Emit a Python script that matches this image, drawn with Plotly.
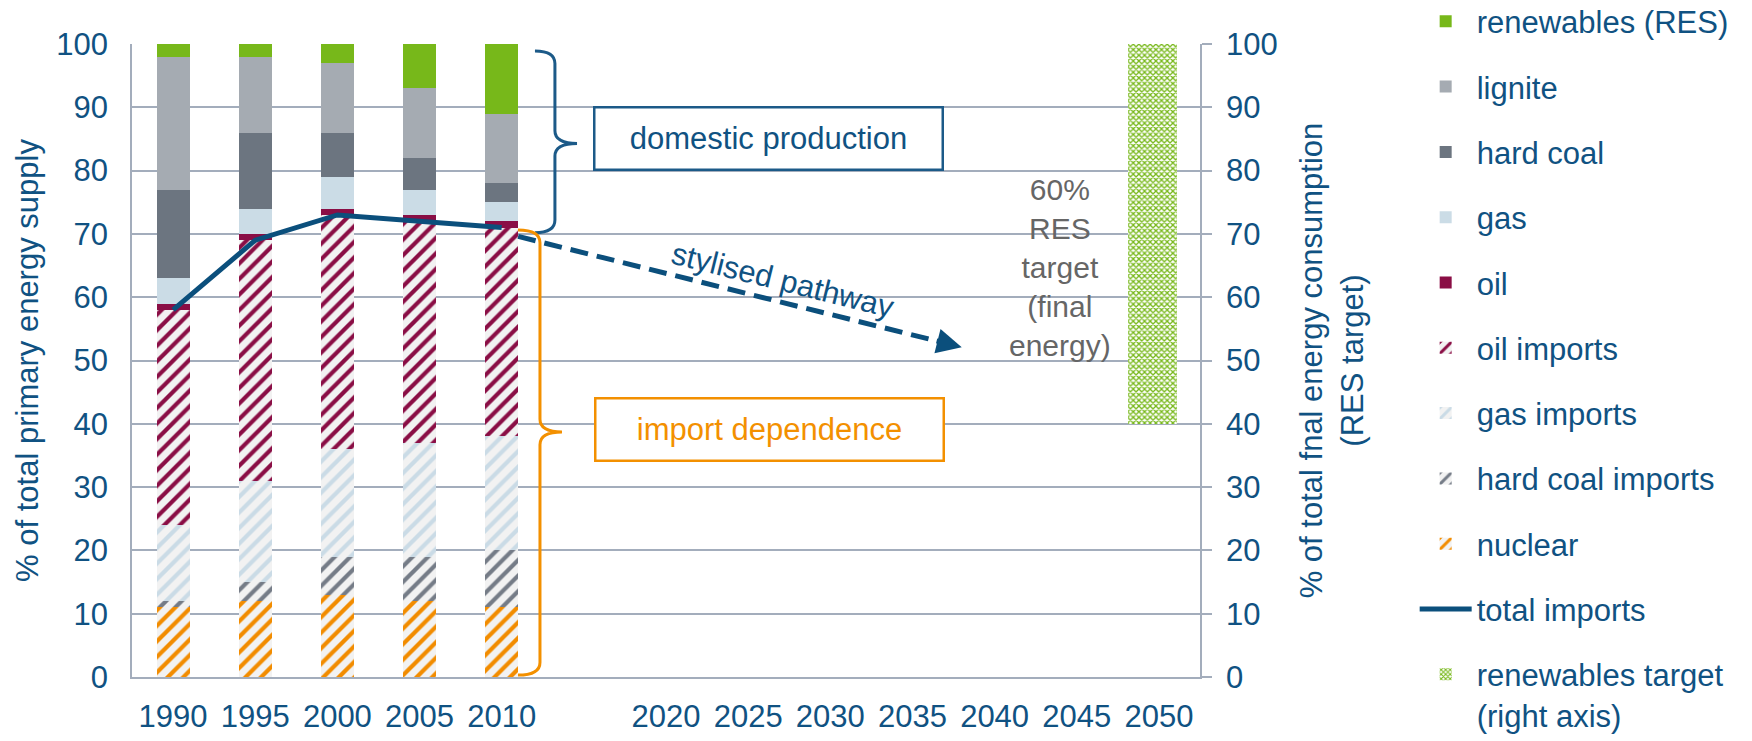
import plotly.graph_objects as go

# Primary energy supply shares (%), historical years
HIST_YEARS = ["1990", "1995", "2000", "2005", "2010"]
AXIS_CATEGORIES = ["1990", "1995", "2000", "2005", "2010", " ",
                   "2020", "2025", "2030", "2035", "2040", "2045", "2050"]

NUCLEAR = [11, 12, 13, 12, 11]
HARD_COAL_IMPORTS = [1, 3, 6, 7, 9]
GAS_IMPORTS = [12, 16, 17, 18, 18]
OIL_IMPORTS = [34, 38, 37, 35, 33]
OIL = [1, 1, 1, 1, 1]
GAS = [4, 4, 5, 4, 3]
HARD_COAL = [14, 12, 7, 5, 3]
LIGNITE = [21, 12, 11, 11, 11]
RENEWABLES = [2, 2, 3, 7, 11]
TOTAL_IMPORTS = [58, 69, 73, 72, 71]

# Renewables target on the right axis (% of final energy)
TARGET_YEAR = ["2050"]
RES_TARGET = [60]

# Stylised pathway endpoints (category index, %)
PATHWAY_START = (4.2, 69.6)
PATHWAY_END = (9.6, 52.1)

FONT = "Arial, Liberation Sans, sans-serif"
BLUE = "#105282"
LINE_BLUE = "#0B4F7C"
ORANGE = "#F39000"
GRID = "#A3ADBC"
HATCH_BG = "#F2F2F2"

fig = go.Figure()


def solid_bar(name, values, color, rank):
    fig.add_trace(go.Bar(
        x=HIST_YEARS, y=values, name=name, width=0.4,
        marker=dict(color=color, line=dict(width=0)),
        legendrank=rank, legendgroup=name,
    ))


def hatched_bar(name, values, color, rank):
    fig.add_trace(go.Bar(
        x=HIST_YEARS, y=values, name=name, width=0.4,
        marker=dict(color=HATCH_BG, line=dict(width=0),
                    pattern=dict(shape="/", fgcolor=color, bgcolor=HATCH_BG,
                                 size=11, solidity=0.38, fillmode="replace")),
        legendrank=rank, legendgroup=name,
    ))


# stacked from bottom to top
hatched_bar("nuclear", NUCLEAR, "#F28C00", 9)
hatched_bar("hard coal imports", HARD_COAL_IMPORTS, "#757C87", 8)
hatched_bar("gas imports", GAS_IMPORTS, "#CADBE6", 7)
hatched_bar("oil imports", OIL_IMPORTS, "#8A0E45", 6)
solid_bar("oil", OIL, "#8A0E45", 5)
solid_bar("gas", GAS, "#CBDCE6", 4)
solid_bar("hard coal", HARD_COAL, "#6C7580", 3)
solid_bar("lignite", LIGNITE, "#A5ABB2", 2)
solid_bar("renewables (RES)", RENEWABLES, "#77B81A", 1)

fig.add_trace(go.Scatter(
    x=HIST_YEARS, y=TOTAL_IMPORTS, name="total imports", mode="lines",
    line=dict(color=LINE_BLUE, width=5), legendrank=10,
    legendgroup="total imports",
))

fig.add_trace(go.Bar(
    x=TARGET_YEAR, y=RES_TARGET, base=[100 - v for v in RES_TARGET],
    name="renewables target<br>(right axis)", yaxis="y2",
    width=0.6, offset=-0.38,
    marker=dict(color="white", line=dict(width=0),
                pattern=dict(shape="x", fgcolor="#77B81A", bgcolor="white",
                             size=4, solidity=0.55, fillmode="replace")),
    legendrank=11, legendgroup="target",
))


# curly braces drawn as paths (x in plot-area fraction, y in data units)
def brace(x_end, x_spine, x_tip, y_top, y_mid, y_bot, ry=2.0):
    return (f"M{x_end},{y_top} Q{x_spine},{y_top} {x_spine},{y_top - ry} "
            f"L{x_spine},{y_mid + ry} Q{x_spine},{y_mid} {x_tip},{y_mid} "
            f"Q{x_spine},{y_mid} {x_spine},{y_mid - ry} "
            f"L{x_spine},{y_bot + ry} Q{x_spine},{y_bot} {x_end},{y_bot}")


shapes = [
    dict(type="path", xref="paper", yref="y",
         path=brace(0.3773, 0.396, 0.4167, 98.9, 84.3, 70.2),
         line=dict(color="#1C5A88", width=3)),
    dict(type="path", xref="paper", yref="y",
         path=brace(0.3614, 0.382, 0.4026, 70.6, 38.7, 0.3),
         line=dict(color=ORANGE, width=3)),
]

# dashed stylised pathway, stopped short of the arrowhead
x0, y0 = PATHWAY_START
x1, y1 = PATHWAY_END
t = 0.96
shapes.append(dict(type="line", xref="x", yref="y",
                   x0=x0, y0=y0, x1=x0 + (x1 - x0) * t, y1=y0 + (y1 - y0) * t,
                   line=dict(color=LINE_BLUE, width=5, dash="18px,9px")))

annotations = [
    dict(x=x1, y=y1, ax=x0 + (x1 - x0) * 0.94, ay=y0 + (y1 - y0) * 0.94,
         xref="x", yref="y", axref="x", ayref="y", text="", showarrow=True,
         arrowhead=2, arrowsize=1.0, arrowwidth=5, arrowcolor=LINE_BLUE,
         standoff=0),
    dict(x=7.25, y=85.1, xref="x", yref="y", text="domestic production",
         showarrow=False, font=dict(family=FONT, size=31, color=BLUE),
         bordercolor="#1C5A88", borderwidth=2.5, borderpad=0,
         width=346, height=60, bgcolor="white"),
    dict(x=7.26, y=39.1, xref="x", yref="y", text="import dependence",
         showarrow=False, font=dict(family=FONT, size=31, color=ORANGE),
         bordercolor=ORANGE, borderwidth=2.5, borderpad=0,
         width=346, height=60, bgcolor="white"),
    dict(x=7.43, y=62.7, xref="x", yref="y", text="stylised pathway",
         showarrow=False, textangle=14,
         font=dict(family=FONT, size=31, color=BLUE)),
    dict(x=10.8, y=64.7, xref="x", yref="y",
         text="60%<br>RES<br>target<br>(final<br>energy)",
         showarrow=False, align="center",
         font=dict(family=FONT, size=30, color="#666666")),
]

fig.update_layout(
    width=1752, height=741,
    margin=dict(l=132, r=552, t=44, b=64, autoexpand=False),
    paper_bgcolor="white", plot_bgcolor="white",
    barmode="stack", bargap=0.6,
    font=dict(family=FONT, size=31, color=BLUE),
    xaxis=dict(type="category", categoryorder="array",
               categoryarray=AXIS_CATEGORIES, range=[-0.5, 12.5],
               showgrid=False, showline=True, linecolor=GRID, linewidth=2,
               ticks="", ticklabelstandoff=11,
               tickfont=dict(family=FONT, size=31, color=BLUE)),
    yaxis=dict(range=[0, 100], dtick=10, showgrid=True, gridcolor=GRID,
               gridwidth=1.5, showline=True, linecolor=GRID, linewidth=1.5,
               zeroline=False, ticks="", ticklabelstandoff=16,
               tickfont=dict(family=FONT, size=31, color=BLUE),
               title=dict(text="% of total primary energy supply", standoff=8,
                          font=dict(family=FONT, size=31, color=BLUE))),
    yaxis2=dict(range=[0, 100], dtick=10, overlaying="y", side="right",
                showgrid=False, showline=True, linecolor=GRID, linewidth=1.5,
                zeroline=False, ticks="outside", ticklen=10, tickcolor=GRID,
                tickwidth=1.5, ticklabelstandoff=8,
                tickfont=dict(family=FONT, size=31, color=BLUE),
                title=dict(text="% of total fnal energy consumption<br>(RES target)",
                           standoff=24,
                           font=dict(family=FONT, size=31, color=BLUE))),
    legend=dict(x=1.201, xanchor="left", y=1.078, yanchor="top",
                font=dict(family=FONT, size=31, color=BLUE),
                traceorder="grouped", tracegroupgap=22, valign="top",
                itemwidth=52, bgcolor="rgba(0,0,0,0)", maxheight=1000),
    shapes=shapes,
    annotations=annotations,
)

fig.write_html("out.html")
